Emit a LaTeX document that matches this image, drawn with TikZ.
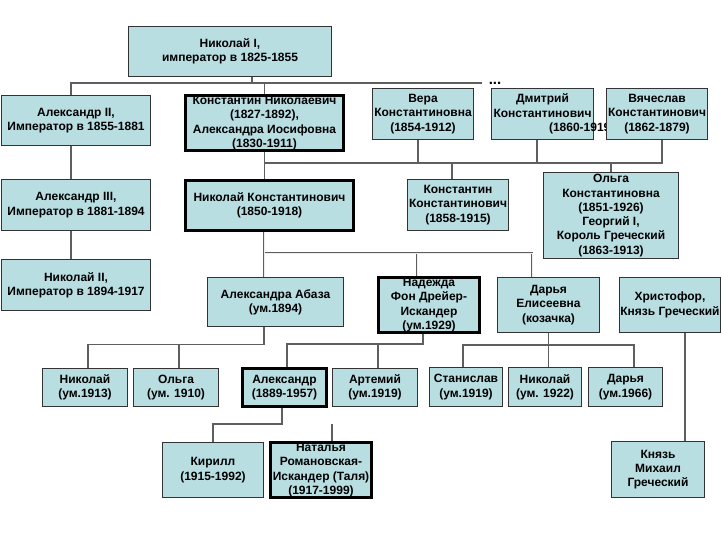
\documentclass[tikz,border=0pt]{standalone}
\usepackage{fontspec}
\setmainfont{Liberation Sans}
\definecolor{boxfill}{RGB}{184,222,226}
\definecolor{linegray}{RGB}{95,95,95}
\tikzset{
  box/.style={draw=black!80, line width=1.2pt, fill=boxfill, align=center, inner sep=0pt,
    font=\bfseries\fontsize{12}{14.3}\selectfont},
  main/.style={box, draw=black, line width=3pt},
  sz/.style 2 args={minimum width=#1pt, minimum height=#2pt},
  link/.style={draw=linegray, line width=1.2pt},
}
\begin{document}
\begin{tikzpicture}[x=1pt,y=-1pt]
\useasboundingbox (0,0) rectangle (722,542);
\node[box,sz={203}{50}] (N1) at (230,51.5) {Николай I,\\император в 1825-1855};
\node[box,sz={149}{50}] (AII) at (76,120.5) {Александр II,\\Император в 1855-1881};
\node[main,sz={158}{55}] (K) at (264.5,123) {Константин Николаевич\\(1827-1892),\\Александра Иосифовна\\(1830-1911)};
\node[box,sz={101}{51}] (Vera) at (423,114) {Вера\\Константиновна\\(1854-1912)};
\node[box,sz={102}{51}] (Dm) at (542.5,114) {Дмитрий\\Константинович\\\makebox[71pt][l]{\hspace*{42pt}(1860-1919)}};
\node[box,sz={101}{51}] (Vy) at (657,114) {Вячеслав\\Константинович\\(1862-1879)};
\node[box,sz={149}{51}] (AIII) at (76,205) {Александр III,\\Император в 1881-1894};
\node[box,sz={149}{51}] (NII) at (76,285) {Николай II,\\Император в 1894-1917};
\node[main,sz={168}{50}] (NK) at (269.5,205.5) {Николай Константинович\\(1850-1918)};
\node[box,sz={101}{51}] (KK) at (458,205) {Константин\\Константинович\\(1858-1915)};
\node[box,sz={135}{86}] (Olga) at (611,215.5) {Ольга\\Константиновна\\(1851-1926)\\Георгий I,\\Король Греческий\\(1863-1913)};
\node[box,sz={136}{49}] (Ab) at (275.5,302) {Александра Абаза\\(ум.1894)};
\node[main,sz={101}{55}] (Nad) at (429,305) {Надежда\\Фон Дрейер-\\Искандер\\(ум.1929)};
\node[box,sz={102}{55}] (Da) at (548.5,305) {Дарья\\Елисеевна\\(козачка)};
\node[box,sz={101}{55}] (Khr) at (670,305) {Христофор,\\Князь Греческий};
\node[box,sz={85}{38}] (NikU) at (85,387.5) {Николай\\(ум.1913)};
\node[box,sz={85}{38}] (OlgaU) at (176,387.5) {Ольга\\(ум. 1910)};
\node[main,sz={84}{38}] (AlexU) at (284.5,387.5) {Александр\\(1889-1957)};
\node[box,sz={85}{38}] (Art) at (375,387.5) {Артемий\\(ум.1919)};
\node[box,sz={73}{39}] (Stan) at (466,387) {Станислав\\(ум.1919)};
\node[box,sz={73}{39}] (Nik22) at (545,387) {Николай\\(ум. 1922)};
\node[box,sz={74}{39}] (DaU) at (625.5,387) {Дарья\\(ум.1966)};
\node[box,sz={101}{55}] (Kir) at (213,470) {Кирилл\\(1915-1992)};
\node[main,sz={101}{55}] (Nat) at (321,470) {Наталья\\Романовская-\\Искандер (Таля)\\(1917-1999)};
\node[box,sz={93}{56}] (Mikh) at (658,469.5) {Князь\\Михаил\\Греческий};
\node[font=\bfseries\fontsize{15}{15}\selectfont, inner sep=0pt] (dots) at (495,83) {...};
\coordinate (bus1) at (252,83);
\coordinate (kb) at (264.5,163);
\coordinate (nb) at (264,253);
\draw[link] (N1.south -| bus1) -- (bus1);
\draw[link] ([xshift=-5pt]AII.north) |- ([xshift=-7pt]dots.west |- bus1);
\draw[link] (K.north) -- (K.north |- bus1);
\draw[link] ([xshift=-5pt]AII.south) -- ([xshift=-5pt]AIII.north);
\draw[link] ([xshift=-5pt]AIII.south) -- ([xshift=-5pt]NII.north);
\draw[link] (K.south) -- (K.south |- NK.north);
\draw[link] (kb) -| ([xshift=5pt]Vy.south);
\draw[link] ([xshift=-5pt]Vera.south) -- ([xshift=-5pt]Vera.south |- kb);
\draw[link] ([xshift=-5.5pt]Dm.south) -- ([xshift=-5.5pt]Dm.south |- kb);
\draw[link] ([xshift=-6pt]KK.north) -- ([xshift=-6pt]KK.north |- kb);
\draw[link] (Olga.north) -- (Olga.north |- kb);
\foreach \w/\c in {2.8pt/linegray, 0.8pt/white!85!gray} {
  \draw[line width=\w, draw=\c] ([xshift=-5.5pt]NK.south) -- ([xshift=-11.5pt]Ab.north);
  \draw[line width=\w, draw=\c] (nb) -| ([xshift=-16.5pt]Da.north);
  \draw[line width=\w, draw=\c] ([xshift=-12pt]Nad.north) -- ([xshift=-12pt]Nad.north |- nb);
}
\draw[link] ([xshift=-11.5pt]Ab.south) -- ++(0,17) -| ([xshift=3pt]NikU.north);
\draw[link] ([xshift=3pt]OlgaU.north) -- ++(0,-24);
\draw[link] ([xshift=-6pt]Nad.south) -- ++(0,10) -| ([xshift=2.5pt]AlexU.north);
\draw[link] ([xshift=3pt]Art.north) -- ++(0,-24);
\draw[link] (Da.south) -- (Da.south |- Nik22.north);
\draw[link] ([xshift=-3pt]Stan.north) -- ++(0,-22) -| ([xshift=8.5pt]DaU.north);
\draw[link] ([xshift=15pt]Khr.south) -- ([xshift=15pt]Khr.south |- Mikh.north);
\draw[link] ([xshift=-2.5pt]AlexU.south) -- ++(0,16) -| (Kir.north);
\draw[link] ([xshift=11pt]Nat.north) -- ++(0,-17);
\end{tikzpicture}
\end{document}
